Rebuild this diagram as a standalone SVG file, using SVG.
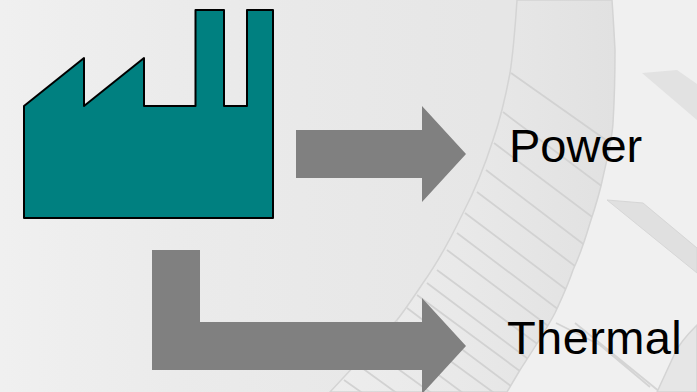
<svg xmlns="http://www.w3.org/2000/svg" width="697" height="392" viewBox="0 0 697 392">
<style>
.band{stroke:#d4d4d4;stroke-width:1.5}
.hatch{fill:none;stroke:#d2d2d2;stroke-width:1.8}
.flow{fill:#808080}
.label{font-family:"Liberation Sans",Arial,sans-serif;font-size:47px;fill:#000}
</style>
<defs>
<linearGradient id="bg" x1="0" y1="0" x2="1" y2="0"><stop offset="0" stop-color="#f0f0f0"/><stop offset=".25" stop-color="#ebebeb"/><stop offset=".7" stop-color="#e6e6e6"/></linearGradient>
<linearGradient id="bandfill" x1="0" y1="0" x2="1" y2="0"><stop offset="0" stop-color="#ededed"/><stop offset=".45" stop-color="#e9e9e9"/><stop offset="1" stop-color="#e1e1e1"/></linearGradient>
<filter id="soft" x="0" y="0" width="1" height="1"><feGaussianBlur stdDeviation="0.7"/></filter>
<clipPath id="arc"><path d="M517,0C515,30 512,60 510,73C505,100 500,120 493,140C485,165 475,190 463,213C450,240 438,262 423,283C415,295 405,310 397,320L330,392H507L520,370C533,350 545,332 555,313C562,298 568,285 573,270C580,255 585,240 590,223C595,208 600,192 603,177C608,155 612,140 613,123C615,90 615,70 615,50C614,30 613,15 612,0Z"/></clipPath>
</defs>
<g id="background" filter="url(#soft)">
<rect width="697" height="392" fill="url(#bg)"/>
<path d="M612,0C613,15 614,30 615,50C615,70 615,90 613,123C612,140 608,155 603,177C600,192 595,208 590,223C585,240 580,255 573,270C568,285 562,298 555,313C545,332 533,350 520,370L507,392H697V0Z" fill="#f0f0f0"/>
<path class="band" fill="url(#bandfill)" d="M517,0C515,30 512,60 510,73C505,100 500,120 493,140C485,165 475,190 463,213C450,240 438,262 423,283C415,295 405,310 397,320L330,392H507L520,370C533,350 545,332 555,313C562,298 568,285 573,270C580,255 585,240 590,223C595,208 600,192 603,177C608,155 612,140 613,123C615,90 615,70 615,50C614,30 613,15 612,0Z"/>
<g clip-path="url(#arc)">
<path class="hatch" d="M511,73L620,150M503,112L620,200M494,143L620,238M486,170L620,272M477,192L620,300M465,213L620,330M457,233L620,356M447,250L620,380M437,270L620,405M427,283L620,428M417,295L620,445M407,308L620,468M397,322L620,485M385,335L620,510M372,350L620,530M358,365L620,555M344,380L620,575"/>
</g>
<path d="M642,73L677,70L697,84V120Z" fill="#e2e2e2"/>
<path d="M607,200L643,203L697,248V273Z" fill="#e0e0e0" stroke="#d6d6d6"/>
<path d="M556,323L600,345L650,387M575,323L660,392" fill="none" stroke="#d4d4d4" stroke-width="1.800"/>
<path d="M657,392L675,353Q680,342 697,325V392Z" fill="#e6e6e6" stroke="#d4d4d4" stroke-width="1.500"/>
</g>
<g id="connectors">
<path class="flow" d="M296,130H422V106L466,154L422,202V178H296Z"/>
<path class="flow" d="M152,250H200V322H422V298L466,346L422,394V370H152Z"/>
</g>
<g id="factory">
<path d="M24,106L84,58V106L144,58V106H195.500V10H224V106H247V10H273V218H24Z" fill="#008080" stroke="#000" stroke-width="2" stroke-linejoin="round"/>
</g>
<g id="power"><text class="label" x="509" y="162">Power</text></g>
<g id="thermal"><text class="label" x="507" y="354" letter-spacing="0.4">Thermal</text></g>
</svg>
